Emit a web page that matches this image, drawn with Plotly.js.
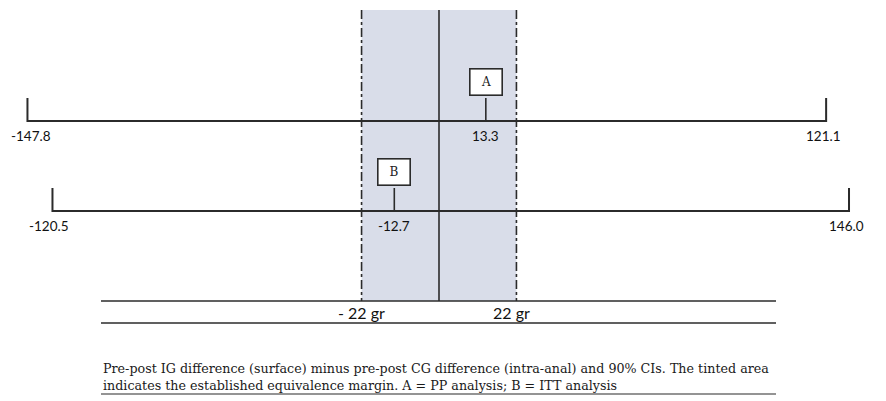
<!DOCTYPE html>
<html><head><meta charset="utf-8">
<script src="https://cdn.plot.ly/plotly-3.0.1.min.js"></script>
<style>html,body{margin:0;padding:0;background:#fff}#c{width:886px;height:401px}</style>
</head><body><div id="c"></div>
<script>
// ---- data ----
const analyses = ['A', 'B'];                 // A = PP analysis, B = ITT analysis
const estimates = [13.3, -12.7];
const lowerCI = [-147.8, -120.5];
const upperCI = [121.1, 146.0];
const margin = 22;                           // equivalence margin (gr)
const marginLabels = ['- 22 gr', '22 gr'];
const caption = 'Pre-post IG difference (surface) minus pre-post CG difference (intra-anal) and 90% CIs. The tinted area<br>indicates the established equivalence margin. A = PP analysis; B = ITT analysis';

// ---- layout constants ----
const rowY = [121, 211];      // vertical position of each CI line (pixel-like y axis)
const capH = 23;              // height of whisker end caps
const boxGap = 26;            // distance from CI line to bottom of letter box
const lineCol = '#2b2b2b';
const pxPerUnit = 3.52;
const numFont = {family: 'Lato, "Open Sans", sans-serif', size: 13.5, color: '#111'};

// the figure compresses the CI beyond the margin (axis break): power scale outside +/-margin
function disp(v) {
  const a = Math.abs(v);
  if (a <= margin) return v;
  return Math.sign(v) * (margin + 20.4 * Math.pow(a - margin, 0.318));
}

const traces = [];
const annotations = [];
analyses.forEach((name, i) => {
  const y = rowY[i];
  const lo = disp(lowerCI[i]), hi = disp(upperCI[i]);
  traces.push({
    type: 'scatter', mode: 'lines', hoverinfo: 'skip', showlegend: false,
    x: [lo, lo, hi, hi], y: [y - capH, y, y, y - capH],
    line: {color: lineCol, width: 2}
  });
  traces.push({
    type: 'scatter', mode: 'lines', hoverinfo: 'skip', showlegend: false,
    x: [estimates[i], estimates[i]], y: [y - boxGap + 3, y],
    line: {color: lineCol, width: 1.6}
  });
  annotations.push({
    x: estimates[i], y: y - boxGap - 13, xref: 'x', yref: 'y', text: name, showarrow: false,
    font: {family: '"DejaVu Serif", serif', size: 12, color: '#222'},
    bgcolor: '#fff', bordercolor: lineCol, borderwidth: 1.6, borderpad: 2,
    width: 27, height: 21
  });
  [[lowerCI[i], lo], [estimates[i], estimates[i]], [upperCI[i], hi]].forEach(([v, xp], k) => {
    annotations.push({
      x: xp, y: y + 15, xref: 'x', yref: 'y', text: v.toFixed(1), showarrow: false,
      font: numFont, xshift: k === 2 ? -3 : (k === 0 ? (i === 0 ? 4 : -3) : 0)
    });
  });
});

[-margin, margin].forEach((m, k) => {
  annotations.push({
    x: m, y: 312, xref: 'x', yref: 'y', text: marginLabels[k], showarrow: false,
    font: {family: 'Lato, "Open Sans", sans-serif', size: 16, color: '#111'},
    xshift: k === 0 ? 0 : -5
  });
});

annotations.push({
  x: 101 / 886, y: 377, xref: 'paper', yref: 'y', xanchor: 'left', yanchor: 'middle',
  align: 'left', text: caption, showarrow: false,
  font: {family: '"DejaVu Serif", serif', size: 12.7, color: '#1a1a1a'}
});

const shapes = [
  {type: 'rect', xref: 'x', yref: 'y', x0: -margin, x1: margin, y0: 10, y1: 301,
   fillcolor: '#d9dde9', line: {width: 0}, layer: 'below'},
  {type: 'line', xref: 'x', yref: 'y', x0: -margin, x1: -margin, y0: 10, y1: 301,
   line: {color: lineCol, width: 1.6, dash: 'dashdot'}},
  {type: 'line', xref: 'x', yref: 'y', x0: margin, x1: margin, y0: 10, y1: 301,
   line: {color: lineCol, width: 1.6, dash: 'dashdot'}},
  {type: 'line', xref: 'x', yref: 'y', x0: 0, x1: 0, y0: 10, y1: 301,
   line: {color: lineCol, width: 1.6}},
  {type: 'line', xref: 'paper', yref: 'y', x0: 101 / 886, x1: 776 / 886, y0: 301, y1: 301,
   line: {color: lineCol, width: 1.6}},
  {type: 'line', xref: 'paper', yref: 'y', x0: 101 / 886, x1: 776 / 886, y0: 323, y1: 323,
   line: {color: lineCol, width: 1.6}},
  {type: 'line', xref: 'paper', yref: 'y', x0: 101 / 886, x1: 776 / 886, y0: 394, y1: 394,
   line: {color: lineCol, width: 1.2}}
];

const layout = {
  width: 886, height: 401,
  margin: {l: 0, r: 0, t: 0, b: 0},
  paper_bgcolor: '#fff', plot_bgcolor: '#fff',
  xaxis: {range: [-439 / pxPerUnit, 447 / pxPerUnit], visible: false, fixedrange: true},
  yaxis: {range: [401, 0], visible: false, fixedrange: true},
  shapes: shapes, annotations: annotations, showlegend: false
};
Plotly.newPlot('c', traces, layout, {displayModeBar: false, staticPlot: true});
</script></body></html>
